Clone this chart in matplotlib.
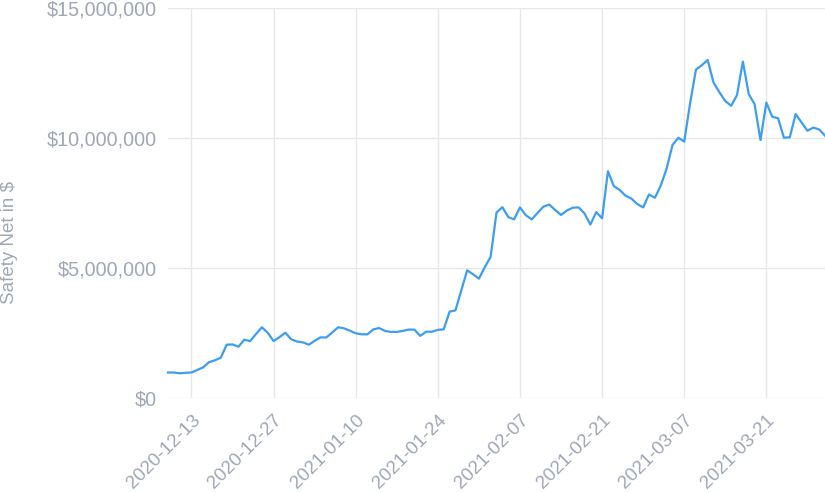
import numpy as np
import pandas as pd
import matplotlib
matplotlib.use('Agg')
import matplotlib.pyplot as plt
import matplotlib.dates as mdates
from matplotlib.ticker import FuncFormatter

# daily safety net, in millions of $, 2020-12-09 .. 2021-03-31
start_date = '2020-12-09'
safety_net_m = [
    0.98, 0.98, 0.95, 0.97, 0.98, 1.08, 1.18, 1.38, 1.45, 1.55,
    2.05, 2.06, 1.97, 2.24, 2.19, 2.46, 2.72, 2.51, 2.19, 2.34,
    2.51, 2.26, 2.17, 2.14, 2.05, 2.20, 2.33, 2.33, 2.52, 2.72,
    2.68, 2.59, 2.49, 2.45, 2.45, 2.64, 2.69, 2.58, 2.54, 2.54,
    2.58, 2.63, 2.63, 2.39, 2.55, 2.55, 2.62, 2.64, 3.32, 3.37,
    4.14, 4.91, 4.76, 4.59, 5.03, 5.43, 7.13, 7.34, 6.96, 6.87,
    7.33, 7.03, 6.87, 7.12, 7.36, 7.44, 7.23, 7.04, 7.21, 7.32,
    7.33, 7.10, 6.67, 7.15, 6.91, 8.72, 8.15, 8.00, 7.78, 7.67,
    7.46, 7.33, 7.83, 7.70, 8.17, 8.82, 9.73, 10.01, 9.86, 11.33,
    12.63, 12.80, 13.00, 12.13, 11.76, 11.42, 11.24, 11.65, 12.94, 11.69,
    11.30, 9.92, 11.36, 10.82, 10.76, 10.01, 10.03, 10.92, 10.60, 10.28,
    10.40, 10.33, 10.09,
]
tick_dates = ['2020-12-13', '2020-12-27', '2021-01-10', '2021-01-24',
              '2021-02-07', '2021-02-21', '2021-03-07', '2021-03-21']
y_ticks = [0, 5_000_000, 10_000_000, 15_000_000]

dates = pd.date_range(start_date, periods=len(safety_net_m), freq='D')
values = np.array(safety_net_m) * 1_000_000

txt_col = '#9fa7b6'
grid_col = '#e8e8e8'
line_col = '#3d9df3'

plt.rcParams['font.family'] = ['Liberation Sans', 'DejaVu Sans']

fig = plt.figure(figsize=(8.25, 4.92), dpi=100)
ax = fig.add_axes([168/825, 1 - 398/492, 1 - 168/825, 390/492])

ax.plot(dates, values, color=line_col, linewidth=1.6, clip_on=False, zorder=3)

ax.set_xlim(dates[0], dates[-1])
ax.set_ylim(0, 15_000_000)
ax.set_yticks(y_ticks)
ax.yaxis.set_major_formatter(FuncFormatter(lambda v, p: '${:,.0f}'.format(v)))
ax.set_xticks(pd.to_datetime(tick_dates))
ax.xaxis.set_major_formatter(mdates.DateFormatter('%Y-%m-%d'))

ax.grid(True, color=grid_col, linewidth=1)
ax.set_axisbelow(True)
for s in ax.spines.values():
    s.set_visible(False)

ax.tick_params(axis='y', length=0, pad=8, labelsize=14.2, labelcolor=txt_col)
ax.tick_params(axis='x', length=0, pad=10, labelsize=13.5, labelcolor=txt_col)
for lab in ax.get_xticklabels():
    lab.set_rotation(45)
    lab.set_ha('right')
    lab.set_va('top')
    lab.set_rotation_mode('anchor')

fig.text(9.5/825, 1 - 242.5/492, 'Safety Net in $', rotation=90,
         ha='center', va='center', fontsize=13.5, color=txt_col)

fig.savefig('out.png', dpi=100)
